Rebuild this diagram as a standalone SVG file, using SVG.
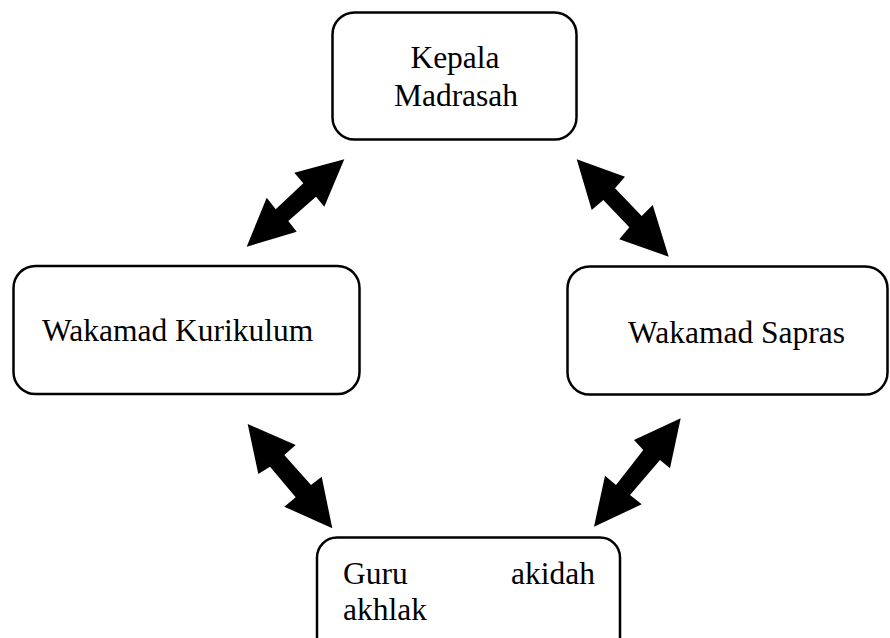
<svg xmlns="http://www.w3.org/2000/svg" width="890" height="638" viewBox="0 0 890 638">
<style>
.box{fill:#fff;stroke:#000;stroke-width:2.5}
.t{font-family:"Liberation Serif","Times New Roman",serif;font-size:31.5px;fill:#000}
.arr{fill:#000;stroke:none}
</style>
<rect width="890" height="638" fill="#fff"/>
<g id="connectors">
<polygon class="arr" points="344.3,159.3 324.3,206.7 316,196.7 288.3,221 296.7,231.7 246.7,246.7 266.7,197.7 275.7,209.3 303.3,183.3 294.3,172.7"/>
<polygon class="arr" points="576.7,159.3 625,176.7 615,188.3 641.7,216 652.7,205 668.7,256.7 619.3,239.3 629.3,227.3 603.3,200 591.7,210"/>
<polygon class="arr" points="247.7,424 295.7,445 284.3,455 311,485 321.7,476.7 332.3,528.3 284.3,506.7 295.7,497.3 270,466.7 258.3,474"/>
<polygon class="arr" points="680.7,418.3 670,468.3 660,460 630,495 641.7,504.3 594,526.7 605,475.7 616,485 643.3,450 634,440"/>
</g>
<g id="kepala">
<rect class="box" x="332.5" y="12.5" width="244" height="127" rx="22"/>
<text class="t" x="455" y="68" text-anchor="middle">Kepala</text>
<text class="t" x="456" y="106" text-anchor="middle">Madrasah</text>
</g>
<g id="kurikulum">
<rect class="box" x="13.5" y="266" width="346" height="128" rx="22"/>
<text class="t" x="42" y="341">Wakamad Kurikulum</text>
</g>
<g id="sapras">
<rect class="box" x="567.5" y="266.5" width="320" height="128" rx="22"/>
<text class="t" x="628" y="343">Wakamad Sapras</text>
</g>
<g id="guru">
<rect class="box" x="317" y="537.5" width="303" height="130" rx="20"/>
<text class="t" x="343" y="584">Guru</text>
<text class="t" x="595" y="584" text-anchor="end">akidah</text>
<text class="t" x="343" y="619.5">akhlak</text>
</g>
</svg>
